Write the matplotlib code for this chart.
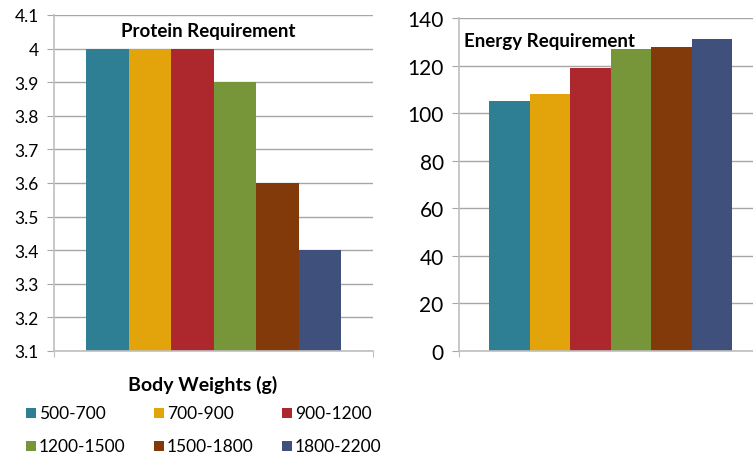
import matplotlib
matplotlib.use("Agg")
import matplotlib.pyplot as plt
from matplotlib.patches import Rectangle
import numpy as np

plt.rcParams['font.family'] = ['Lato', 'DejaVu Sans']

weights = ["500-700", "700-900", "900-1200", "1200-1500", "1500-1800", "1800-2200"]
colors = ["#2E7F93", "#E2A40A", "#AC282C", "#77963A", "#833A0A", "#3F507C"]
protein = [4.0, 4.0, 4.0, 3.9, 3.6, 3.4]
energy = [105, 108, 119, 127, 128, 131]
protein_ticks = [3.1, 3.2, 3.3, 3.4, 3.5, 3.6, 3.7, 3.8, 3.9, 4.0, 4.1]
protein_ticklabels = ["3.1", "3.2", "3.3", "3.4", "3.5", "3.6", "3.7", "3.8", "3.9", "4", "4.1"]
energy_ticks = [0, 20, 40, 60, 80, 100, 120, 140]

W, H = 753, 456
fig = plt.figure(figsize=(W / 100, H / 100), dpi=100)

def axes_px(x0, y0, x1, y1):
    return fig.add_axes([x0 / W, 1 - y1 / H, (x1 - x0) / W, (y1 - y0) / H])

grid_c = "#A6A6A6"
spine_c = "#BFBFBF"

def style(ax, size):
    ax.set_axisbelow(True)
    ax.yaxis.grid(True, color=grid_c, lw=1.0)
    for s in ["top", "right"]:
        ax.spines[s].set_visible(False)
    ax.spines["left"].set_color(spine_c)
    ax.spines["bottom"].set_color(spine_c)
    ax.spines["left"].set_linewidth(1.2)
    ax.spines["bottom"].set_linewidth(1.2)
    ax.tick_params(axis="y", length=5, color=grid_c, labelsize=size, pad=6)
    ax.tick_params(axis="x", length=4, color=spine_c, labelbottom=False)

n = len(weights)
bw = 1.0
x = np.arange(n) * bw
span = n * bw

# Protein panel
ax1 = axes_px(54, 16, 373, 352)
ax1.bar(x, protein, width=bw, color=colors, align="edge", zorder=2)
pad1 = span * 32 / 255
ax1.set_xlim(-pad1, span + pad1)
ax1.set_ylim(3.1, 4.1)
ax1.set_yticks(protein_ticks)
ax1.set_yticklabels(protein_ticklabels)
ax1.set_xticks([-pad1, span + pad1])
style(ax1, 12.5)
fig.text(208 / W, 1 - 32 / H, "Protein Requirement",
         ha="center", va="center", fontsize=13.5, fontweight="bold")

# Energy panel
ax2 = axes_px(459, 19, 753, 352)
ax2.bar(x, energy, width=bw, color=colors, align="edge", zorder=2)
unit = 243 / span
ax2.set_xlim(-30 / unit, span + 21 / unit)
ax2.set_ylim(0, 140)
ax2.set_yticks(energy_ticks)
ax2.set_xticks([-30 / unit])
style(ax2, 15)
fig.text(464 / W, 1 - 41 / H, "Energy Requirement",
         ha="left", va="center", fontsize=13.5, fontweight="bold")

# Legend: title plus a 3 x 2 grid of swatches, filled row by row
fig.text(203 / W, 1 - 385 / H, "Body Weights (g)", ha="center", va="center",
         fontsize=14, fontweight="bold")
col_x = [26, 154, 282]
row_y = [414, 447]
sq = 10
for i, (lab, c) in enumerate(zip(weights, colors)):
    cx = col_x[i % 3]
    cy = row_y[i // 3]
    fig.add_artist(Rectangle((cx / W, 1 - (cy + sq / 2) / H), sq / W, sq / H,
                             transform=fig.transFigure, facecolor=c,
                             edgecolor="none"))
    fig.text((cx + sq + 3) / W, 1 - cy / H, lab, ha="left", va="center",
             fontsize=12.5)

fig.savefig("out.png", dpi=100)
